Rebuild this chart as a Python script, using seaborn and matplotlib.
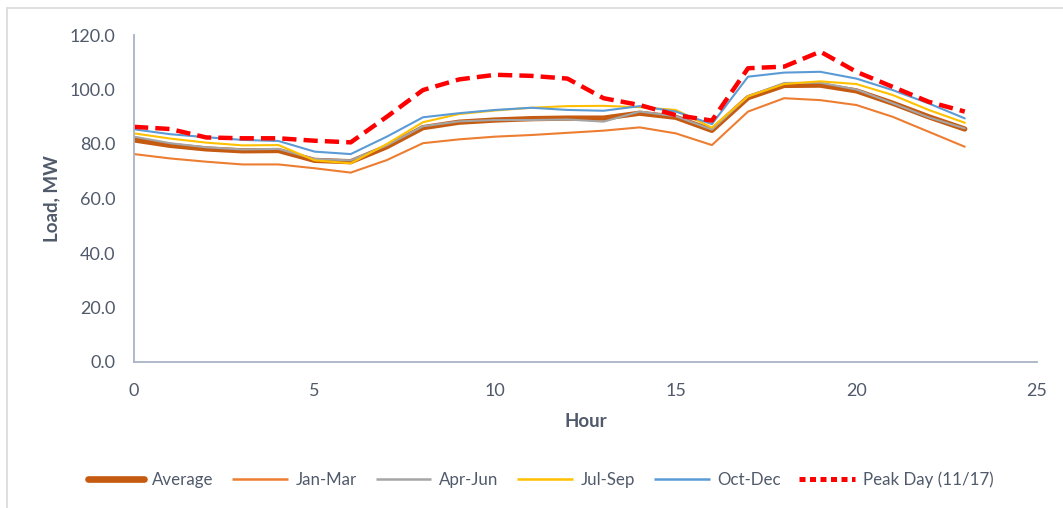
import matplotlib
matplotlib.use("Agg")
import matplotlib.pyplot as plt
import seaborn as sns
import pandas as pd
from matplotlib.lines import Line2D

hours = list(range(24))
average = [81.5, 79.5, 78.2, 77.5, 77.6, 74.0, 73.5, 79.0, 86.0, 88.0, 88.8, 89.3,
           89.5, 89.5, 91.3, 89.8, 85.0, 97.0, 101.5, 101.6, 99.5, 95.0, 90.0, 85.5]
jan_mar = [76.3, 74.7, 73.5, 72.5, 72.5, 71.1, 69.5, 74.1, 80.3, 81.7, 82.7, 83.3,
           84.1, 84.9, 86.1, 83.9, 79.6, 91.9, 96.8, 96.1, 94.3, 90.0, 84.5, 79.0]
apr_jun = [82.7, 80.3, 78.8, 78.0, 78.2, 74.5, 74.0, 79.5, 86.5, 88.3, 88.8, 88.8,
           89.0, 88.2, 91.9, 90.2, 85.3, 97.5, 102.4, 102.5, 100.0, 95.0, 89.8, 85.7]
jul_sep = [83.9, 82.0, 80.5, 79.5, 79.6, 74.0, 72.9, 80.0, 88.0, 91.0, 92.3, 93.3,
           93.9, 94.0, 93.5, 92.5, 86.0, 97.5, 102.0, 103.0, 102.0, 98.0, 92.5, 87.8]
oct_dec = [85.4, 83.6, 82.5, 81.5, 81.1, 77.2, 76.3, 82.7, 89.8, 91.3, 92.5, 93.3,
           92.5, 92.2, 93.9, 91.9, 87.3, 104.7, 106.2, 106.5, 104.0, 99.8, 94.9, 89.4]
peak_day = [86.3, 85.5, 82.4, 82.1, 82.1, 81.2, 80.6, 90.0, 99.8, 103.7, 105.4, 105.0,
            104.0, 96.8, 94.3, 90.6, 88.6, 107.8, 108.4, 113.9, 106.5, 101.0, 95.5, 91.9]

series_names = ["Average", "Jan-Mar", "Apr-Jun", "Jul-Sep", "Oct-Dec", "Peak Day (11/17)"]
series_vals = [average, jan_mar, apr_jun, jul_sep, oct_dec, peak_day]
colors = ["#C55A11", "#ED7D31", "#A5A5A5", "#FFC000", "#5B9BD5", "#FF0000"]
widths = [3.8, 1.5, 1.5, 1.5, 1.5, 3.2]
y_ticks = [0, 20, 40, 60, 80, 100, 120]
x_ticks = [0, 5, 10, 15, 20, 25]

sns.set_theme(style="white")
plt.rcParams["font.family"] = ["Lato", "DejaVu Sans"]
text_color = "#505A6B"
spine_color = "#A9B3C4"

fig = plt.figure(figsize=(10.63, 5.08), dpi=100)
ax = fig.add_axes([134 / 1063, 1 - 362 / 508, (1037 - 134) / 1063, (362 - 35) / 508])

handles = []
for name, vals, c, lw in zip(series_names, series_vals, colors, widths):
    df = pd.DataFrame({"Hour": hours, "Load": vals})
    dashed = name.startswith("Peak")
    sns.lineplot(data=df, x="Hour", y="Load", ax=ax, color=c, linewidth=lw,
                 legend=False, solid_joinstyle="round", solid_capstyle="round")
    line = ax.get_lines()[-1]
    if dashed:
        line.set_dashes((3.2, 1.6))
        line.set_dash_capstyle("butt")
        h = Line2D([], [], color=c, linewidth=3.6, dashes=(1.2, 0.9))
    else:
        h = Line2D([], [], color=c, linewidth=lw + (1.0 if lw > 3 else 0.3),
                   solid_capstyle="round" if lw > 3 else "butt")
    handles.append(h)

ax.set_xlim(0, 25)
ax.set_ylim(0, 120)
ax.set_xticks(x_ticks)
ax.set_yticks(y_ticks)
ax.set_yticklabels([f"{v:.1f}" for v in y_ticks])
ax.tick_params(axis="both", length=0, labelsize=13, colors=text_color)
ax.tick_params(axis="y", pad=13.5)
ax.tick_params(axis="x", pad=15)
for s in ["top", "right"]:
    ax.spines[s].set_visible(False)
for s in ["left", "bottom"]:
    ax.spines[s].set_color(spine_color)
    ax.spines[s].set_linewidth(1.3)
ax.grid(False)

ax.set_xlabel("Hour", fontsize=13.5, fontweight="bold", color=text_color, labelpad=10)
ax.set_ylabel("Load, MW", fontsize=13.5, fontweight="bold", color=text_color, labelpad=7)

fig.legend(handles, series_names, loc="center", bbox_to_anchor=(0.509, 1 - 480 / 508),
           ncol=6, frameon=False, fontsize=12.2, handlelength=3.3, handletextpad=0.45,
           columnspacing=1.1, labelcolor=text_color)

# chart area border (top and left visible in the reference)
fig.add_artist(Line2D([7 / 1063, 7 / 1063], [0, 1 - 8 / 508], transform=fig.transFigure,
                      color="#D9D9D9", linewidth=1.2))
fig.add_artist(Line2D([7 / 1063, 1], [1 - 8 / 508, 1 - 8 / 508], transform=fig.transFigure,
                      color="#D9D9D9", linewidth=1.2))

fig.savefig("out.png", dpi=100, facecolor="white")
